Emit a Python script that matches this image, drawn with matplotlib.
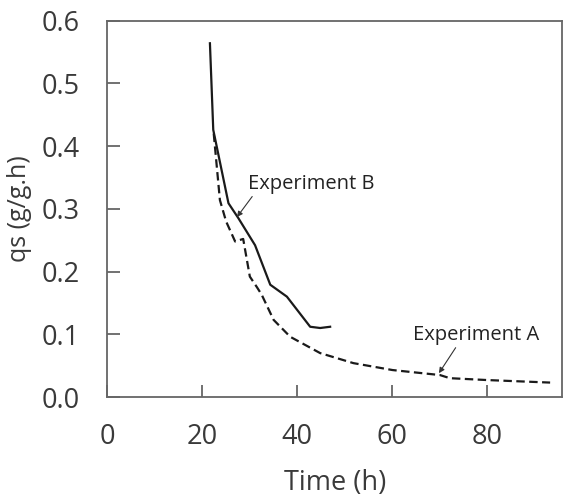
"""qs over time for two experiments."""
import matplotlib
matplotlib.use('Agg')
import matplotlib.pyplot as plt

plt.rcParams['font.family'] = ['Open Sans', 'DejaVu Sans']

# Experiment A (dashed)
time_a = [22.4, 23.7, 25.0, 26.9, 28.6, 30.0, 31.5, 32.5, 35.0, 38.5,
          44.8, 51.8, 60.0, 70.0, 72.1, 80.0, 93.2]
qs_a = [0.420, 0.314, 0.280, 0.248, 0.252, 0.192, 0.175, 0.163, 0.123, 0.096,
        0.070, 0.054, 0.043, 0.035, 0.030, 0.027, 0.023]

# Experiment B (solid)
time_b = [21.6, 22.3, 25.5, 27.6, 31.1, 34.3, 37.8, 42.7, 44.8, 46.9]
qs_b = [0.564, 0.426, 0.309, 0.285, 0.242, 0.179, 0.160, 0.112, 0.110, 0.112]

xticks = [0, 20, 40, 60, 80]
yticks = [0.0, 0.1, 0.2, 0.3, 0.4, 0.5, 0.6]

fig = plt.figure(figsize=(5.64, 4.99), dpi=100)
ax = fig.add_axes([107.3 / 564, 1 - 397 / 499, (562 - 107.3) / 564, (397 - 20.7) / 499])

ax.plot(time_b, qs_b, color='#1a1a1a', lw=1.6, ls='-')
ax.plot(time_a, qs_a, color='#1a1a1a', lw=1.6, ls=(0, (3.8, 2)))

ax.set_xlim(0, 95.7)
ax.set_ylim(0, 0.6)
ax.set_xticks(xticks)
ax.set_yticks(yticks)
ax.set_xticklabels([str(v) for v in xticks])
ax.set_yticklabels([f'{v:.1f}' for v in yticks])

for s in ax.spines.values():
    s.set_color('#666666')
    s.set_linewidth(1.3)
ax.tick_params(direction='in', length=9, width=1.3, color='#666666',
               labelsize=19.5, labelcolor='#3a3a3a')
ax.tick_params(axis='x', pad=19)
ax.tick_params(axis='y', pad=20)

ax.set_xlabel('Time (h)', fontsize=19.5, color='#3a3a3a', va='center')
ax.set_ylabel('qs (g/g.h)', fontsize=18, color='#3a3a3a', va='center')
ax.xaxis.set_label_coords(0.5, -0.2285)
ax.yaxis.set_label_coords(-0.192, 0.5)

arrow = dict(arrowstyle='-|>', color='#333333', lw=0.8, mutation_scale=8,
             shrinkA=0, shrinkB=0)
ax.annotate('Experiment B', xy=(27.3, 0.287), xytext=(29.6, 0.34),
            fontsize=14.5, color='#222222', va='center', ha='left',
            arrowprops=dict(arrow, relpos=(0.05, 0.0)))
ax.annotate('Experiment A', xy=(69.8, 0.038), xytext=(64.4, 0.099),
            fontsize=14.5, color='#222222', va='center', ha='left',
            arrowprops=dict(arrow, relpos=(0.35, 0.0)))

fig.savefig('out.png', dpi=100)
